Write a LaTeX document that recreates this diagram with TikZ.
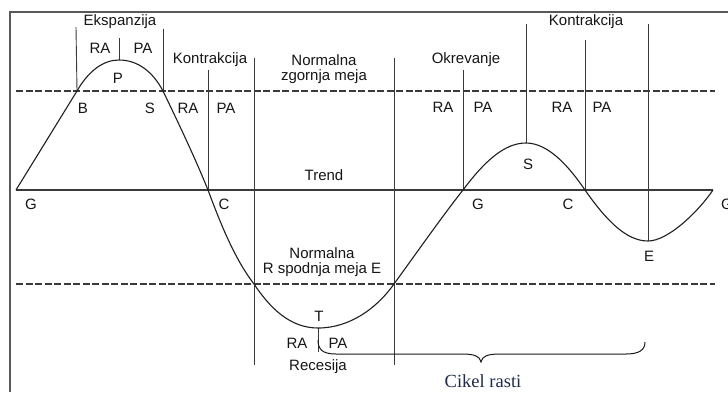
\documentclass[tikz,border=0pt]{standalone}
\usepackage{fontspec}
\setmainfont{Liberation Sans}
\newfontfamily\serifcik{Liberation Serif}
\definecolor{linegray}{HTML}{3A3A3A}
\definecolor{txt}{HTML}{161616}
\definecolor{navy}{HTML}{1F2B4A}
\begin{document}
\begin{tikzpicture}[x=1pt,y=-1pt,
  lbl/.style={text=txt,font=\fontsize{15}{17}\selectfont,inner sep=0pt,align=center},
  vline/.style={draw=linegray,line width=0.9pt},
  dashln/.style={draw=linegray,line width=1.2pt,dash pattern=on 7pt off 2.5pt},
  curveln/.style={draw=black!88,line width=1.1pt}]
\useasboundingbox (0,0) rectangle (728,392);
\fill[white] (0,0) rectangle (728,392);
% frame
\coordinate (fbl) at (10,392);
\coordinate (ftl) at (10,12);
\coordinate (ftr) at (728,12);
\draw[draw=gray!70!black,line width=1.2pt] (fbl) -- (ftl) -- (ftr);
% horizontal lines
\coordinate (ul) at (16,91); \coordinate (ur) at (715,91);
\coordinate (tl) at (16,190); \coordinate (tr) at (713,190);
\coordinate (ll) at (16,284); \coordinate (lr) at (715,284);
\draw[dashln] (ul) -- (ur);
\draw[dashln] (ll) -- (lr);
\draw[draw=linegray,line width=1.1pt] (tl) -- (tr);
% key points of the curve
\coordinate (G1) at (16,190);
\coordinate (B) at (77,91);
\coordinate (P) at (119,60);
\coordinate (S1) at (163,91);
\coordinate (C1) at (208,190);
\coordinate (R) at (254,284);
\coordinate (T) at (318,328);
\coordinate (E1) at (394,284);
\coordinate (G2) at (463,190);
\coordinate (S2) at (526,143);
\coordinate (C2) at (585,190);
\coordinate (E2) at (648,241);
\coordinate (G3) at (713,190);
% vertical lines
\draw[vline] (76,27) -- (B);
\draw[vline] (119,38) -- (P);
\draw[vline] (163,29) -- (S1);
\draw[vline] (208,70) -- (C1);
\draw[vline] (254,58) -- (254,365);
\draw[vline] (394,58) -- (394,365);
\draw[vline] (463,70) -- (G2);
\draw[vline] (526,24) -- (S2);
\draw[vline] (585,40) -- (C2);
\draw[vline] (648,24) -- (E2);
\draw[vline] (T) -- (318,352);
% curve
\draw[curveln] (G1) -- (B)
  .. controls (89,70) and (104,60) .. (P)
  .. controls (138,60) and (153,72) .. (S1)
  .. controls (178,122) and (196,160) .. (C1)
  .. controls (220,222) and (234,258) .. (R)
  .. controls (270,308) and (290,328) .. (T)
  .. controls (350,328) and (377,308) .. (E1)
  .. controls (420,248) and (444,214) .. (G2)
  .. controls (484,162) and (504,143) .. (S2)
  .. controls (549,143) and (570,168) .. (C2)
  .. controls (606,220) and (626,241) .. (E2)
  .. controls (668,241) and (698,212) .. (G3);
% brace
\coordinate (brL) at (318,340);
\coordinate (brR) at (645,342);
\coordinate (brTip) at (481,362);
\draw[draw=black!90,line width=1pt] (brL)
  .. controls (318,349) and (322,354) .. (336,354) -- (462,354)
  .. controls (474,354) and (480,356) .. (brTip)
  .. controls (482,356) and (488,354) .. (500,354) -- (626,354)
  .. controls (639,354) and (645,350) .. (brR);
% labels
\node[lbl] (eks) at (120,22) {Ekspanzija};
\node[lbl] (ra1) at (100,48) {RA};
\node[lbl] (pa1) at (143,48) {PA};
\node[lbl] (lP) at (118,78) {P};
\node[lbl] (lB) at (83,108) {B};
\node[lbl] (lS1) at (150,108) {S};
\node[lbl] (ra2) at (188,108) {RA};
\node[lbl] (pa2) at (226,108) {PA};
\node[lbl] (kon1) at (210,60) {Kontrakcija};
\node[lbl] (nzm) at (324,69) {Normalna\\[-2pt]zgornja meja};
\node[lbl] (okr) at (466,60) {Okrevanje};
\node[lbl] (ra3) at (443,107) {RA};
\node[lbl] (pa3) at (483,107) {PA};
\node[lbl] (ra4) at (562,107) {RA};
\node[lbl] (pa4) at (602,107) {PA};
\node[lbl] (kon2) at (586,22) {Kontrakcija};
\node[lbl] (lS2) at (528,164) {S};
\node[lbl] (trend) at (324,175) {Trend};
\node[lbl] (lG1) at (31,204) {G};
\node[lbl] (lC1) at (224,204) {C};
\node[lbl] (lG2) at (478,204) {G};
\node[lbl] (lC2) at (568,204) {C};
\node[lbl] (lG3) at (727,204) {G};
\node[lbl] (lE2) at (649,256) {E};
\node[lbl] (nsm) at (322,262) {Normalna\\[-2pt]R spodnja meja E};
\node[lbl] (lT) at (319,316) {T};
\node[lbl] (ra5) at (297,343) {RA};
\node[lbl] (pa5) at (338,343) {PA};
\node[lbl] (rec) at (318,367) {Recesija};
\node[inner sep=0pt,text=navy,font=\serifcik\fontsize{18.5}{20}\selectfont] (cik) at (483,381) {Cikel rasti};
\end{tikzpicture}
\end{document}
